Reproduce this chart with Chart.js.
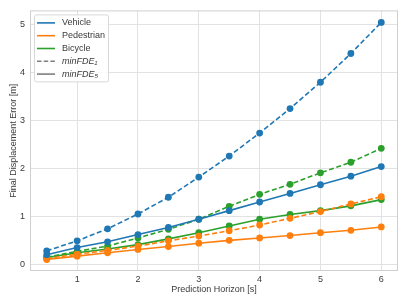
<!DOCTYPE html>
<html>
<head>
<meta charset="utf-8">
<script src="https://cdn.jsdelivr.net/npm/chart.js@4/dist/chart.umd.min.js"></script>
<style>
  html, body { margin: 0; padding: 0; background: #fff; }
  #wrap { width: 407px; height: 305px; }
</style>
</head>
<body>
<div id="wrap"><canvas id="fde-chart" width="407" height="305"></canvas></div>
<script>
const horizons = [0.5, 1, 1.5, 2, 2.5, 3, 3.5, 4, 4.5, 5, 5.5, 6];
const xTicks = [1, 2, 3, 4, 5, 6];
const yTicks = [0, 1, 2, 3, 4, 5];

const vehicleFde1 = [0.28, 0.49, 0.74, 1.05, 1.40, 1.82, 2.26, 2.74, 3.25, 3.80, 4.40, 5.05];
const vehicleFde5 = [0.20, 0.35, 0.47, 0.62, 0.77, 0.94, 1.12, 1.30, 1.48, 1.66, 1.84, 2.04];
const pedestrianFde1 = [0.12, 0.21, 0.29, 0.38, 0.49, 0.59, 0.70, 0.82, 0.96, 1.10, 1.26, 1.41];
const pedestrianFde5 = [0.10, 0.17, 0.24, 0.31, 0.37, 0.44, 0.50, 0.55, 0.60, 0.66, 0.71, 0.78];
const bicycleFde1 = [0.15, 0.27, 0.38, 0.55, 0.73, 0.94, 1.21, 1.46, 1.67, 1.91, 2.13, 2.42];
const bicycleFde5 = [0.14, 0.24, 0.32, 0.41, 0.53, 0.66, 0.80, 0.94, 1.04, 1.12, 1.22, 1.35];

const classNames = ["Vehicle", "Pedestrian", "Bicycle"];
const classColors = ["#1f77b4", "#ff7f0e", "#2ca02c"];
const metricNames = ["minFDE\u2081", "minFDE\u2085"];

const textColor = "#3a3a3a";
const gridColor = "#e2e2e2";
const baseFont = "'Liberation Sans', Arial, sans-serif";

function makeSet(label, values, color, dashed) {
  return {
    label: label,
    data: horizons.map((h, i) => ({ x: h, y: values[i] })),
    borderColor: color,
    backgroundColor: color,
    borderWidth: 1.6,
    borderDash: dashed ? [5, 2.6] : [],
    pointRadius: 3.4,
    pointBorderWidth: 0,
    pointBackgroundColor: color,
    tension: 0
  };
}

const datasets = [
  makeSet("Vehicle minFDE1", vehicleFde1, classColors[0], true),
  makeSet("Vehicle minFDE5", vehicleFde5, classColors[0], false),
  makeSet("Pedestrian minFDE1", pedestrianFde1, classColors[1], true),
  makeSet("Pedestrian minFDE5", pedestrianFde5, classColors[1], false),
  makeSet("Bicycle minFDE1", bicycleFde1, classColors[2], true),
  makeSet("Bicycle minFDE5", bicycleFde5, classColors[2], false)
];

// frame round the plot plus the legend box inside it
const framePlugin = {
  id: "frame",
  beforeDatasetsDraw(chart) {
    const { ctx, chartArea } = chart;
    ctx.save();
    ctx.strokeStyle = "#cfcfcf";
    ctx.lineWidth = 1;
    ctx.strokeRect(chartArea.left + 0.5, chartArea.top + 0.5,
      chartArea.right - chartArea.left - 1, chartArea.bottom - chartArea.top - 1);
    ctx.restore();
  },
  afterDraw(chart) {
    const { ctx, chartArea } = chart;
    const x0 = chartArea.left + 4;
    const y0 = chartArea.top + 4;
    const rowH = 12.8;
    const entries = classNames.map((n, i) => ({ text: n, color: classColors[i], dash: [], italic: false }))
      .concat([
        { text: metricNames[0], color: "#7f7f7f", dash: [4.5, 2.2], italic: true },
        { text: metricNames[1], color: "#7f7f7f", dash: [], italic: true }
      ]);
    ctx.save();
    ctx.fillStyle = "rgba(255,255,255,0.85)";
    ctx.strokeStyle = "#d8d8d8";
    ctx.lineWidth = 1;
    ctx.beginPath();
    ctx.roundRect(x0 + 0.5, y0 + 0.5, 74, 67, 2);
    ctx.fill();
    ctx.stroke();
    entries.forEach((e, i) => {
      const y = y0 + 8.5 + i * rowH;
      ctx.strokeStyle = e.color;
      ctx.lineWidth = 1.6;
      ctx.setLineDash(e.dash);
      ctx.beginPath();
      ctx.moveTo(x0 + 3, y);
      ctx.lineTo(x0 + 21, y);
      ctx.stroke();
      ctx.setLineDash([]);
      ctx.fillStyle = textColor;
      ctx.font = (e.italic ? "italic " : "") + "9px " + baseFont;
      ctx.textBaseline = "middle";
      ctx.fillText(e.text, x0 + 28, y);
    });
    ctx.restore();
  }
};

new Chart(document.getElementById("fde-chart").getContext("2d"), {
  type: "line",
  data: { datasets: datasets },
  plugins: [framePlugin],
  options: {
    responsive: false,
    animation: false,
    layout: { padding: { left: 0, top: 9, right: 9, bottom: 0 } },
    plugins: {
      legend: { display: false },
      tooltip: { enabled: false }
    },
    scales: {
      x: {
        type: "linear",
        min: 0.225,
        max: 6.275,
        afterBuildTicks: (scale) => { scale.ticks = xTicks.map(v => ({ value: v })); },
        afterFit: (scale) => { scale.height = 34; },
        grid: { color: gridColor, lineWidth: 1, drawTicks: false },
        border: { display: false },
        ticks: { color: textColor, font: { family: baseFont, size: 9 }, padding: 3, maxRotation: 0 },
        title: {
          display: true,
          text: "Prediction Horizon [s]",
          color: textColor,
          font: { family: baseFont, size: 9 },
          padding: { top: 0, bottom: 10 }
        }
      },
      y: {
        type: "linear",
        min: -0.14,
        max: 5.3,
        afterBuildTicks: (scale) => { scale.ticks = yTicks.map(v => ({ value: v })); },
        afterFit: (scale) => { scale.width = 30; },
        grid: { color: gridColor, lineWidth: 1, drawTicks: false },
        border: { display: false },
        ticks: { color: textColor, font: { family: baseFont, size: 9 }, padding: 5 },
        title: {
          display: true,
          text: "Final Displacement Error [m]",
          color: textColor,
          font: { family: baseFont, size: 9 },
          padding: { top: 8, bottom: 0 }
        }
      }
    }
  }
});
</script>
</body>
</html>
